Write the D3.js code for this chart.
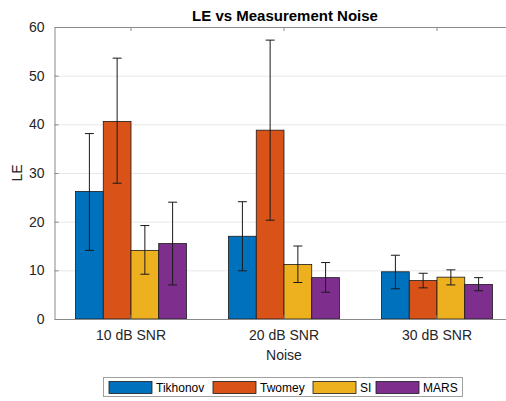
<!DOCTYPE html>
<html lang="en">
<head>
<meta charset="UTF-8">
<title>LE vs Measurement Noise</title>
<script src="https://d3js.org/d3.v7.min.js"></script>
<style>
  body { margin: 0; padding: 0; background: #fff; }
  svg text { font-family: "Liberation Sans", Arial, sans-serif; fill: #262626; }
  .tick-label { font-size: 14px; }
  .title { font-size: 15px; font-weight: bold; fill: #000; }
  .legend text { font-size: 12px; fill: #000; }
</style>
</head>
<body>
<div id="chart"></div>
<script>
// categories and series
const categories = ["10 dB SNR", "20 dB SNR", "30 dB SNR"];
const methods = ["Tikhonov", "Twomey", "SI", "MARS"];
const colors = ["#0072BD", "#D95319", "#EDB120", "#7E2F8E"];

// bar heights per method (one value per noise level)
const tikhonov = [26.2, 17.0, 9.7];
const twomey   = [40.6, 38.8, 7.9];
const si       = [14.1, 11.2, 8.6];
const mars     = [15.5, 8.5, 7.1];

// error bar ends (low, high)
const tikhonovLow  = [14.1, 9.9, 6.2],  tikhonovHigh = [38.1, 24.1, 13.1];
const twomeyLow    = [27.9, 20.3, 6.4], twomeyHigh   = [53.6, 57.3, 9.4];
const siLow        = [9.2, 7.5, 7.0],   siHigh       = [19.2, 15.0, 10.1];
const marsLow      = [7.0, 5.5, 5.8],   marsHigh     = [24.0, 11.6, 8.5];

const yTicks = [0, 10, 20, 30, 40, 50, 60];

const values = [tikhonov, twomey, si, mars];
const lows = [tikhonovLow, twomeyLow, siLow, marsLow];
const highs = [tikhonovHigh, twomeyHigh, siHigh, marsHigh];

const rows = [];
categories.forEach((c, ci) => {
  methods.forEach((m, mi) => {
    rows.push({ cat: c, method: m, color: colors[mi],
                value: values[mi][ci], lo: lows[mi][ci], hi: highs[mi][ci] });
  });
});

const W = 506, H = 401;
const plotLeft = 54.5, plotRight = 513.5, plotTop = 27, plotBottom = 319;

const svg = d3.select("#chart").append("svg")
  .attr("width", W).attr("height", H);

const x0 = d3.scaleBand().domain(categories).range([plotLeft, plotRight])
  .paddingInner(0.275).paddingOuter(0.1375);
const x1 = d3.scaleBand().domain(methods).range([0, x0.bandwidth()]);
const y = d3.scaleLinear().domain([0, 60]).range([plotBottom, plotTop]);

// grid
svg.append("g").selectAll("line")
  .data(yTicks.filter(t => t > 0 && t < 60))
  .enter().append("line")
  .attr("x1", plotLeft).attr("x2", plotRight)
  .attr("y1", d => y(d) + 0.5).attr("y2", d => y(d) + 0.5)
  .attr("stroke", "#e8e8e8").attr("stroke-width", 1);

// bars
svg.append("g").selectAll("rect")
  .data(rows).enter().append("rect")
  .attr("x", d => x0(d.cat) + x1(d.method))
  .attr("y", d => y(d.value))
  .attr("width", x1.bandwidth())
  .attr("height", d => y(0) - y(d.value))
  .attr("fill", d => d.color)
  .attr("stroke", "#1a1a1a").attr("stroke-width", 0.8);

// error bars
const eb = svg.append("g").attr("stroke", "#1a1a1a").attr("stroke-width", 1);
rows.forEach(d => {
  const cx = x0(d.cat) + x1(d.method) + x1.bandwidth() / 2;
  eb.append("line").attr("x1", cx).attr("x2", cx).attr("y1", y(d.lo)).attr("y2", y(d.hi));
  eb.append("line").attr("x1", cx - 4.5).attr("x2", cx + 4.5).attr("y1", y(d.lo)).attr("y2", y(d.lo));
  eb.append("line").attr("x1", cx - 4.5).attr("x2", cx + 4.5).attr("y1", y(d.hi)).attr("y2", y(d.hi));
});

// axes
const axisColor = "#8a8a8a";
const yAxis = svg.append("g").attr("transform", `translate(${plotLeft},0)`)
  .call(d3.axisLeft(y).tickValues(yTicks).tickSizeInner(-4).tickSizeOuter(0).tickPadding(10));
yAxis.selectAll("text").attr("class", "tick-label");

const xAxis = svg.append("g").attr("transform", `translate(0,${plotBottom})`)
  .call(d3.axisBottom(x0).tickSizeInner(-4).tickSizeOuter(0).tickPadding(11));
xAxis.selectAll("text").attr("class", "tick-label");

svg.append("g").attr("transform", `translate(0,${plotTop})`)
  .call(d3.axisBottom(x0).tickSizeInner(4).tickSizeOuter(0).tickFormat(""));

svg.selectAll(".domain, .tick line").attr("stroke", axisColor);
svg.append("line").attr("x1", plotRight).attr("x2", plotRight).attr("y1", plotTop).attr("y2", plotBottom)
  .attr("stroke", axisColor);

// labels
svg.append("text").attr("class", "title").attr("x", (plotLeft + plotRight) / 2 + 1).attr("y", 21)
  .attr("text-anchor", "middle").text("LE vs Measurement Noise");
svg.append("text").attr("class", "tick-label")
  .attr("transform", `translate(22,${(plotTop + plotBottom) / 2}) rotate(-90)`)
  .attr("text-anchor", "middle").text("LE");
svg.append("text").attr("class", "tick-label")
  .attr("x", x0("20 dB SNR") + x0.bandwidth() / 2).attr("y", 360)
  .attr("text-anchor", "middle").text("Noise");

// legend
const legend = svg.append("g").attr("class", "legend");
legend.append("rect").attr("x", 103.5).attr("y", 377.5).attr("width", 359).attr("height", 19)
  .attr("fill", "#fff").attr("stroke", "#a0a0a0");
const legX = [109, 213, 313, 376];
methods.forEach((m, i) => {
  legend.append("rect").attr("x", legX[i]).attr("y", 381.5).attr("width", 43).attr("height", 12)
    .attr("fill", colors[i]).attr("stroke", "#1a1a1a").attr("stroke-width", 0.8);
  legend.append("text").attr("x", legX[i] + 47).attr("y", 392).text(m);
});
</script>
</body>
</html>
